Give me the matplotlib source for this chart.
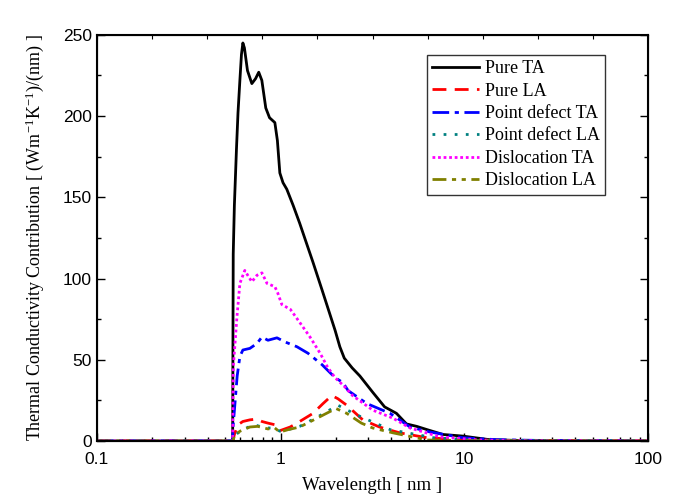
import matplotlib.pyplot as plt
from matplotlib.ticker import LogLocator, MultipleLocator, NullFormatter

# data (wavelength in nm, contribution)
pure_ta_x = [0.1, 0.3, 0.5, 0.548, 0.552, 0.56, 0.575, 0.586, 0.600, 0.612, 0.623, 0.635,
             0.66, 0.697, 0.73, 0.76, 0.79, 0.83, 0.87, 0.93, 0.96, 0.99, 1.03, 1.08, 1.17,
             1.27, 1.38, 1.5, 1.68, 1.83, 1.98, 2.1, 2.22, 2.45, 2.7, 3.17, 3.68, 4.27,
             4.84, 5.5, 6.26, 7.65, 9.82, 13.7, 20, 40, 100]
pure_ta_y = [0, 0, 0, 0, 115, 145, 180, 202, 222, 238, 245, 242,
             228, 220, 223, 227, 222, 205, 199, 196, 185, 165, 159, 155, 145,
             134, 122, 110, 93, 80, 68, 58, 51, 45, 40, 30, 21, 17,
             10.5, 9, 7, 4, 3, 0.8, 0.3, 0.1, 0]

pure_la_x = [0.1, 0.5, 0.55, 0.56, 0.586, 0.623, 0.68, 0.743, 0.791, 0.853, 0.930, 0.965,
             1.0, 1.127, 1.27, 1.50, 1.70, 1.90, 2.05, 2.29, 2.8, 3.45, 4.45, 6.26,
             10.3, 20, 100]
pure_la_y = [0, 0, 0, 4, 10, 12, 13, 13.5, 12, 11, 10, 7,
             6.5, 8.6, 12, 17, 23, 28, 26, 22, 13, 8.6, 5, 2,
             0.6, 0.1, 0]

pd_ta_x = [0.1, 0.5, 0.548, 0.552, 0.564, 0.58, 0.600, 0.623, 0.68, 0.743, 0.791, 0.853,
           0.955, 1.055, 1.227, 1.409, 1.679, 1.977, 2.18, 2.33, 2.95, 3.94, 5.06, 6.5,
           9.82, 15, 30, 100]
pd_ta_y = [0, 0, 0, 10, 23, 40, 52, 56, 57, 60, 64, 62,
           63.5, 61, 58, 54, 47, 39, 36, 31, 23, 17, 8.6, 5.5,
           2, 0.8, 0.2, 0]

pd_la_x = [0.1, 0.5, 0.55, 0.56, 0.6, 0.68, 0.743, 0.791, 0.853, 0.93, 0.99, 1.1,
           1.27, 1.6, 2.05, 2.6, 3.94, 6.8, 12, 100]
pd_la_y = [0, 0, 0, 3, 6, 9, 9.5, 8.6, 8, 8, 6, 7,
           9, 15, 22, 16, 7, 2, 0.3, 0]

dis_ta_x = [0.1, 0.5, 0.548, 0.552, 0.578, 0.600, 0.638, 0.662, 0.697, 0.743, 0.791, 0.843,
            0.930, 0.965, 1.015, 1.13, 1.27, 1.445, 1.64, 1.80, 1.977, 2.25, 2.46, 3.17,
            4.09, 5.06, 7.36, 12.1, 25, 100]
dis_ta_y = [0, 0, 0, 45, 76, 97, 105, 102, 98, 102, 103.5, 97,
            95, 91, 84, 81, 73, 64, 54, 45.5, 39, 33, 28, 19,
            14, 8, 2.5, 0.6, 0.1, 0]

dis_la_x = [0.1, 0.5, 0.55, 0.56, 0.6, 0.68, 0.75, 0.853, 0.93, 0.99, 1.1, 1.27,
            1.64, 2.0, 2.29, 2.75, 3.17, 4.09, 6.26, 12, 100]
dis_la_y = [0, 0, 0, 3, 6, 8.6, 9, 7.4, 8, 5.5, 7, 8.6,
            15, 20, 17, 11, 8, 5, 0.6, 0.1, 0]

plt.rcParams["mathtext.fontset"] = "stix"

fig = plt.figure(figsize=(6.73, 4.98), dpi=100)
ax = fig.add_axes([0.144, 0.1145, 0.819, 0.8155])

ax.plot(pure_ta_x, pure_ta_y, color="black", lw=2.0, label="Pure TA")
ax.plot(pure_la_x, pure_la_y, color="#ff0000", lw=2.0, ls=(0, (5, 3)), label="Pure LA")
ax.plot(pd_ta_x, pd_ta_y, color="#0000ff", lw=2.0, ls=(0, (6, 2, 1.5, 2)), label="Point defect TA")
ax.plot(pd_la_x, pd_la_y, color="#008080", lw=2.0, ls=(0, (1, 3)), label="Point defect LA")
ax.plot(dis_ta_x, dis_ta_y, color="#ff00ff", lw=2.0, ls=(0, (1, 1)), label="Dislocation TA")
ax.plot(dis_la_x, dis_la_y, color="#808000", lw=2.0, ls=(0, (5, 2, 1.5, 2, 1.5, 2)),
        label="Dislocation LA")

ax.set_xscale("log")
ax.set_xlim(0.1, 100)
ax.set_ylim(0, 250)
ax.xaxis.set_minor_locator(LogLocator(base=10, subs=range(2, 10), numticks=10))
ax.xaxis.set_minor_formatter(NullFormatter())
ax.set_xticks([0.1, 1, 10, 100])
ax.set_xticklabels(["0.1", "1", "10", "100"], family="Liberation Sans")
ax.yaxis.set_major_locator(MultipleLocator(50))
ax.yaxis.set_minor_locator(MultipleLocator(25))
ax.set_yticks([0, 50, 100, 150, 200, 250])
ax.set_yticklabels(["0", "50", "100", "150", "200", "250"], family="Liberation Sans")
ax.tick_params(which="both", direction="in", labelsize=12.5, right=True, width=1)
ax.tick_params(which="major", length=6)
ax.tick_params(which="minor", length=3)
ax.tick_params(axis="x", pad=8)

# top axis with plain linear ticks
top = ax.twiny()
top.set_xlim(0, 10)
top.xaxis.set_major_locator(MultipleLocator(1))
top.tick_params(direction="in", length=3, labeltop=False, width=0.8)

for sp in ax.spines.values():
    sp.set_linewidth(1.5)

ax.set_xlabel("Wavelength [ nm ]", family="Liberation Serif", fontsize=13.5, labelpad=7)
ax.set_ylabel("Thermal Conductivity Contribution [ (Wm$^{\\mathregular{-1}}$K$^{\\mathregular{-1}}$)/(nm) ]",
              family="Liberation Serif", fontsize=13, labelpad=12)

leg = ax.legend(loc="upper left", bbox_to_anchor=(0.599, 0.951), prop={"family": "Liberation Serif", "size": 13},
                frameon=True, fancybox=False, edgecolor="black", handlelength=2.6,
                borderpad=0.3, labelspacing=0.3, handletextpad=0.3, borderaxespad=0)
leg.get_frame().set_linewidth(1.0)

fig.savefig("out.png", dpi=100)
